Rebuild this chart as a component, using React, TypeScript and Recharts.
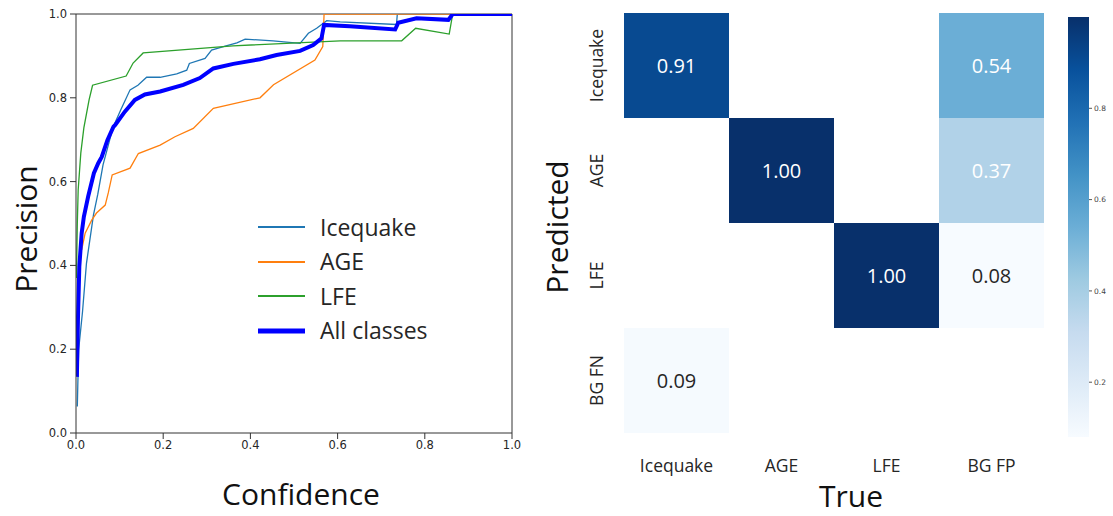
import React from 'react';
import {
  LineChart, Line, XAxis, YAxis, ReferenceLine, Legend,
  ScatterChart, Scatter, BarChart, Bar,
} from 'recharts';

// ---------- Precision-confidence curves: [confidence, precision] ----------
const icequakePR: [number, number][] = [
  [0.003, 0.063], [0.006, 0.198], [0.015, 0.29], [0.024, 0.405], [0.04, 0.52],
  [0.05, 0.57], [0.062, 0.64], [0.073, 0.683], [0.085, 0.73], [0.1025, 0.771],
  [0.124, 0.819], [0.142, 0.83], [0.162, 0.849], [0.193, 0.849], [0.231, 0.857],
  [0.254, 0.866], [0.26, 0.882], [0.296, 0.894], [0.311, 0.914], [0.338, 0.922],
  [0.369, 0.931], [0.388, 0.94], [0.452, 0.936], [0.514, 0.93], [0.533, 0.954],
  [0.552, 0.966], [0.575, 0.984], [0.606, 0.981], [0.735, 0.975], [0.737, 1.0],
  [1.0, 1.0],
];
const agePR: [number, number][] = [
  [0.013, 0.437], [0.021, 0.477], [0.036, 0.508], [0.047, 0.525], [0.067, 0.544],
  [0.074, 0.573], [0.083, 0.616], [0.124, 0.632], [0.143, 0.667], [0.193, 0.687],
  [0.227, 0.707], [0.269, 0.727], [0.315, 0.775], [0.422, 0.8], [0.453, 0.831],
  [0.548, 0.89], [0.566, 0.922], [0.569, 1.0], [1.0, 1.0],
];
const lfePR: [number, number][] = [
  [0.001, 0.37], [0.003, 0.5], [0.005, 0.58], [0.011, 0.668], [0.018, 0.728],
  [0.03, 0.795], [0.038, 0.83], [0.115, 0.852], [0.131, 0.883], [0.154, 0.907],
  [0.36, 0.924], [0.606, 0.936], [0.747, 0.936], [0.779, 0.966], [0.856, 0.952],
  [0.864, 1.0], [1.0, 1.0],
];
const allPR: [number, number][] = [
  [0.002, 0.134], [0.0046, 0.278], [0.0076, 0.397], [0.013, 0.477], [0.018, 0.516],
  [0.028, 0.565], [0.041, 0.62], [0.051, 0.644], [0.059, 0.659], [0.072, 0.699],
  [0.086, 0.731], [0.09, 0.735], [0.112, 0.767], [0.135, 0.795], [0.158, 0.808],
  [0.193, 0.815], [0.246, 0.831], [0.284, 0.847], [0.315, 0.87], [0.361, 0.881],
  [0.422, 0.892], [0.46, 0.902], [0.514, 0.912], [0.544, 0.926], [0.563, 0.942],
  [0.569, 0.974], [0.628, 0.971], [0.732, 0.963], [0.739, 0.979], [0.781, 0.99],
  [0.854, 0.986], [0.864, 1.0], [1.0, 1.0],
];
const axisTicks = [0, 0.2, 0.4, 0.6, 0.8, 1.0];

// ---------- Confusion matrix ----------
const trueLabels = ['Icequake', 'AGE', 'LFE', 'BG FP'];
const predLabels = ['Icequake', 'AGE', 'LFE', 'BG FN'];
const confRows: (number | null)[][] = [
  [0.91, null, null, 0.54],
  [null, 1.0, null, 0.37],
  [null, null, 1.0, 0.08],
  [0.09, null, null, null],
];
const cbarMin = 0.08;
const cbarMax = 1.0;
const cbarTicks = [0.2, 0.4, 0.6, 0.8];

// ---------- styling ----------
const SANS = '"Open Sans", "Noto Sans", sans-serif';
const BLUES = ['#f7fbff', '#deebf7', '#c6dbef', '#9ecae1', '#6baed6', '#4292c6', '#2171b5', '#08519c', '#08306b'];

function hexToRgb(h: string) {
  return [parseInt(h.slice(1, 3), 16), parseInt(h.slice(3, 5), 16), parseInt(h.slice(5, 7), 16)];
}
function bluesColor(t: number) {
  const tt = Math.max(0, Math.min(1, t));
  const pos = tt * (BLUES.length - 1);
  const i = Math.min(BLUES.length - 2, Math.floor(pos));
  const f = pos - i;
  const a = hexToRgb(BLUES[i]);
  const b = hexToRgb(BLUES[i + 1]);
  const c = a.map((v, k) => Math.round(v + (b[k] - v) * f));
  return `rgb(${c[0]},${c[1]},${c[2]})`;
}
const norm = (v: number) => (v - cbarMin) / (cbarMax - cbarMin);

const toPts = (arr: [number, number][]) => arr.map(([c, p]) => ({ c, p }));

const series = [
  { name: 'Icequake', data: toPts(icequakePR), color: '#1f77b4', width: 1.3 },
  { name: 'AGE', data: toPts(agePR), color: '#ff7f0e', width: 1.3 },
  { name: 'LFE', data: toPts(lfePR), color: '#2ca02c', width: 1.3 },
  { name: 'All classes', data: toPts(allPR), color: '#0000ff', width: 4 },
];

const heatCells = confRows.flatMap((row, r) =>
  row.map((v, c) => (v === null ? null : { col: c + 0.5, row: r + 0.5, v })).filter(Boolean)
) as { col: number; row: number; v: number }[];

const HM_PLOT = 420;
const CELL = HM_PLOT / trueLabels.length;

function HeatCell(props: any) {
  const { cx, cy, payload } = props;
  const v = payload.v as number;
  const t = norm(v);
  return (
    <g>
      <rect x={cx - CELL / 2} y={cy - CELL / 2} width={CELL} height={CELL} fill={bluesColor(t)} />
      <text
        x={cx}
        y={cy}
        textAnchor="middle"
        dominantBaseline="central"
        fontFamily={SANS}
        fontSize={20}
        fill={t > 0.25 ? '#ffffff' : '#262626'}
      >
        {v.toFixed(2)}
      </text>
    </g>
  );
}

function HeatXTick(props: any) {
  const { x, payload } = props;
  const idx = Math.floor(payload.value);
  return (
    <text x={x} y={465} textAnchor="middle" dominantBaseline="central" fontFamily={SANS} fontSize={17.5} fill="#262626">
      {trueLabels[idx]}
    </text>
  );
}
function HeatYTick(props: any) {
  const { y, payload } = props;
  const idx = Math.floor(payload.value);
  const lx = 66;
  return (
    <text
      x={lx}
      y={y}
      transform={`rotate(-90, ${lx}, ${y})`}
      textAnchor="middle"
      dominantBaseline="central"
      fontFamily={SANS}
      fontSize={17.5}
      fill="#262626"
    >
      {predLabels[idx]}
    </text>
  );
}

function LegendBox() {
  return (
    <div style={{ fontFamily: SANS, fontSize: 23, color: '#262626' }}>
      {series.map((s) => (
        <div key={s.name} style={{ height: 34.5, display: 'flex', alignItems: 'center' }}>
          <svg width={48} height={10} style={{ display: 'block' }}>
            <line x1={0} y1={5} x2={47} y2={5} stroke={s.color} strokeWidth={s.width === 4 ? 5 : 2} />
          </svg>
          <span style={{ marginLeft: 14, lineHeight: 1 }}>{s.name}</span>
        </div>
      ))}
    </div>
  );
}

const tickStyle = { fontFamily: '"DejaVu Sans", sans-serif', fontSize: 11.5, fill: '#262626' };

const titleStyle: React.CSSProperties = {
  position: 'absolute',
  fontFamily: SANS,
  fontSize: 30,
  color: '#111',
  whiteSpace: 'nowrap',
  lineHeight: 1,
};

export default function App() {
  return (
    <div style={{ position: 'absolute', left: 0, top: 0, width: 1113, height: 516, background: '#fff', overflow: 'hidden' }}>
      {/* Left: precision vs confidence */}
      <div style={{ position: 'absolute', left: 0, top: 0 }}>
        <LineChart width={530} height={516} margin={{ top: 14, right: 18, bottom: 53, left: 36 }}>
          <XAxis
            dataKey="c"
            type="number"
            domain={[0, 1]}
            ticks={axisTicks}
            tickFormatter={(v: number) => v.toFixed(1)}
            allowDataOverflow
            height={30}
            tickSize={6}
            tickMargin={2}
            stroke="#333"
            tick={tickStyle}
          />
          <YAxis
            dataKey="p"
            type="number"
            domain={[0, 1]}
            ticks={axisTicks}
            tickFormatter={(v: number) => v.toFixed(1)}
            allowDataOverflow
            width={40}
            tickSize={6}
            tickMargin={3}
            stroke="#333"
            tick={tickStyle}
          />
          <ReferenceLine y={1} stroke="#333" strokeWidth={1} />
          <ReferenceLine x={1} stroke="#333" strokeWidth={1} />
          {series.map((s) => (
            <Line
              key={s.name}
              data={s.data}
              dataKey="p"
              name={s.name}
              type="linear"
              stroke={s.color}
              strokeWidth={s.width}
              dot={false}
              activeDot={false}
              isAnimationActive={false}
            />
          ))}
          <Legend
            layout="vertical"
            align="center"
            verticalAlign="middle"
            content={() => <LegendBox />}
            wrapperStyle={{ left: 258, top: 210, width: 230, height: 140 }}
          />
        </LineChart>
      </div>
      <div style={{ ...titleStyle, left: 301, top: 494, transform: 'translate(-50%, -50%)' }}>Confidence</div>
      <div style={{ ...titleStyle, left: 26, top: 229, transform: 'translate(-50%, -50%) rotate(-90deg)' }}>Precision</div>

      {/* Right: confusion matrix */}
      <div style={{ position: 'absolute', left: 530, top: 0 }}>
        <ScatterChart width={583} height={516} margin={{ top: 13, right: 69, bottom: 43, left: 34 }}>
          <XAxis
            dataKey="col"
            type="number"
            domain={[0, trueLabels.length]}
            ticks={trueLabels.map((_, i) => i + 0.5)}
            axisLine={false}
            tickLine={false}
            height={40}
            tick={<HeatXTick />}
            interval={0}
          />
          <YAxis
            dataKey="row"
            type="number"
            domain={[0, predLabels.length]}
            ticks={predLabels.map((_, i) => i + 0.5)}
            reversed
            axisLine={false}
            tickLine={false}
            width={60}
            tick={<HeatYTick />}
            interval={0}
          />
          <Scatter data={heatCells} shape={<HeatCell />} isAnimationActive={false} />
        </ScatterChart>
      </div>
      <div style={{ ...titleStyle, left: 851, top: 496, transform: 'translate(-50%, -50%)' }}>True</div>
      <div style={{ ...titleStyle, left: 557, top: 227, transform: 'translate(-50%, -50%) rotate(-90deg)' }}>Predicted</div>

      {/* Colorbar */}
      <div style={{ position: 'absolute', left: 1060, top: 0 }}>
        <BarChart
          width={53}
          height={516}
          data={[{ name: 'cbar', range: [cbarMin, cbarMax] }]}
          margin={{ top: 17, right: 0, bottom: 79, left: 8 }}
          barCategoryGap={0}
        >
          <defs>
            <linearGradient id="bluesGrad" x1="0" y1="0" x2="0" y2="1">
              {BLUES.map((col, i) => (
                <stop key={i} offset={`${100 - (i / (BLUES.length - 1)) * 100}%`} stopColor={col} />
              )).reverse()}
            </linearGradient>
          </defs>
          <XAxis dataKey="name" hide />
          <YAxis
            orientation="right"
            type="number"
            domain={[cbarMin, cbarMax]}
            ticks={cbarTicks}
            tickFormatter={(v: number) => v.toFixed(1)}
            allowDataOverflow
            axisLine={false}
            tickSize={3}
            tickMargin={2}
            width={24}
            stroke="#555"
            tick={{ fontFamily: '"DejaVu Sans", sans-serif', fontSize: 7.5, fill: '#444' }}
          />
          <Bar dataKey="range" fill="url(#bluesGrad)" isAnimationActive={false} />
        </BarChart>
      </div>
    </div>
  );
}
